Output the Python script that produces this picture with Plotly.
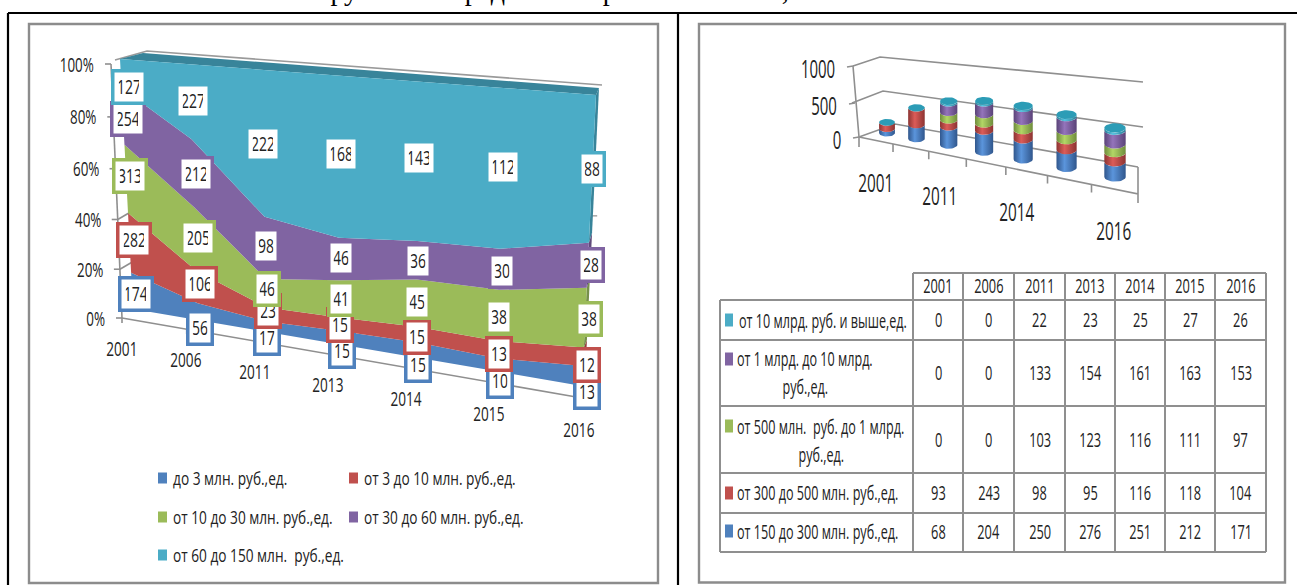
import math
import plotly.graph_objects as go

# Data
years = ["2001", "2006", "2011", "2013", "2014", "2015", "2016"]

small_names = ["до 3 млн. руб.,ед.", "от 3 до 10 млн. руб.,ед.", "от 10 до 30 млн. руб.,ед.",
               "от 30 до 60 млн. руб.,ед.", "от 60 до 150 млн.  руб.,ед."]
upto_3 = [174, 56, 17, 15, 15, 10, 13]
from_3_to_10 = [282, 106, 23, 15, 15, 13, 12]
from_10_to_30 = [313, 205, 46, 41, 45, 38, 38]
from_30_to_60 = [254, 212, 98, 46, 36, 30, 28]
from_60_to_150 = [127, 227, 222, 168, 143, 112, 88]

from_150_to_300 = [68, 204, 250, 276, 251, 212, 171]
from_300_to_500 = [93, 243, 98, 95, 116, 118, 104]
from_500_to_1000 = [0, 0, 103, 123, 116, 111, 97]
from_1000_to_10000 = [0, 0, 133, 154, 161, 163, 153]
above_10000 = [0, 0, 22, 23, 25, 27, 26]

percent_ticks = [0, 20, 40, 60, 80, 100]
count_ticks = [0, 500, 1000]

small_series = [upto_3, from_3_to_10, from_10_to_30, from_30_to_60, from_60_to_150]
large_series = [from_150_to_300, from_300_to_500, from_500_to_1000, from_1000_to_10000, above_10000]

BLUE, RED, GREEN, PURPLE, TEAL = "#4f81bd", "#c0504d", "#9bbb59", "#8064a2", "#4bacc6"
colors = [BLUE, RED, GREEN, PURPLE, TEAL]
side_colors = ["#3b6390", "#923d3a", "#76904a", "#614c7c", "#38849a"]
light = ["#5b95dc", "#dc5c58", "#b2d666", "#9474bb", "#56c3e0"]
dark = ["#30568c", "#8c3432", "#6f8c3c", "#5a4378", "#2b7f97"]
GRID = "#8f8f8f"
SANS = "Open Sans, Liberation Sans, sans-serif"
TEXT = "#222222"

fig = go.Figure()
shapes, notes = [], []


def plane(bl, br, tl, tr):
    """Projective map of the unit square onto a quadrilateral on the page."""
    x0, y0 = bl
    x1, y1 = br
    x2, y2 = tr
    x3, y3 = tl
    dx1, dx2, sx = x1 - x2, x3 - x2, x0 - x1 + x2 - x3
    dy1, dy2, sy = y1 - y2, y3 - y2, y0 - y1 + y2 - y3
    den = dx1 * dy2 - dx2 * dy1
    g = (sx * dy2 - dx2 * sy) / den
    h = (dx1 * sy - sx * dy1) / den
    a, b, c = x1 - x0 + g * x1, x3 - x0 + h * x3, x0
    d, e, f = y1 - y0 + g * y1, y3 - y0 + h * y3, y0

    def project(s, t):
        w = g * s + h * t + 1
        return (a * s + b * t + c) / w, (d * s + e * t + f) / w
    return project


def line(points, color=GRID, width=1.6):
    xs, ys = zip(*points)
    fig.add_trace(go.Scatter(x=xs, y=ys, mode="lines", line=dict(color=color, width=width),
                             hoverinfo="skip", showlegend=False))


def polygon(points, color):
    xs, ys = zip(*points)
    fig.add_trace(go.Scatter(x=xs, y=ys, mode="lines", fill="toself", fillcolor=color,
                             line=dict(width=0), hoverinfo="skip", showlegend=False))


def note(x, y, text, size, squeeze, xanchor="center", **extra):
    # the annotation name carries the horizontal text scale applied after drawing
    notes.append(dict(x=x, y=y, text=text, showarrow=False, xanchor=xanchor, yanchor="middle",
                      name=str(squeeze), font=dict(family=SANS, size=size, color=TEXT), **extra))


def swatches(xs, ys, cols, w, h):
    for x, y, c in zip(xs, ys, cols):
        shapes.append(dict(type="rect", x0=x, x1=x + w, y0=y - h / 2, y1=y + h / 2,
                           fillcolor=c, line=dict(width=0)))


def frame(x0, y0, x1, y1, color, width):
    shapes.append(dict(type="rect", x0=x0, y0=y0, x1=x1, y1=y1,
                       line=dict(color=color, width=width), fillcolor="rgba(0,0,0,0)"))


# Page frame and chart boxes
frame(29, 24, 658, 583, "#8c8c8c", 2.4)
frame(699, 24, 1285, 582.5, "#8c8c8c", 2.4)
for seg in [((8, 13), (1297, 13)), ((8, 13), (8, 585)), ((678, 13), (678, 585))]:
    shapes.append(dict(type="line", x0=seg[0][0], y0=seg[0][1], x1=seg[1][0], y1=seg[1][1],
                       line=dict(color="#000000", width=2.2)))
notes.append(dict(xref="x", yref="paper", x=314, y=1 + 10 / 585,
                  text="Группы по предельным рамкам объема,", showarrow=False,
                  yanchor="middle", xanchor="left",
                  font=dict(family="Liberation Serif, serif", size=28, color="#000000")))

# ---- 100% stacked area chart, drawn in a tilted plane
n = len(years) - 1
wall = plane((122, 318), (582, 398), (111, 64), (598, 89))
face = plane((133, 309), (582, 386), (120, 59), (596, 95))
back = plane((136, 303), (585, 380), (143, 53), (599, 88))
tags = plane((138, 314), (585, 403), (127, 58), (595, 90))
year_tags = plane((122, 348), (579, 429), (111, 94), (596, 120))

line([(115, 60), (147, 51), (602, 85)], color="#9a9a9a", width=1.6)
line([wall(0, 0), wall(0, 1)])
line([wall(0, 0), wall(1, 0)])
for t in percent_ticks:
    v = t / 100
    x, y = wall(0, v)
    line([(x - 6, y), (x, y)])
    if t in (20, 40):
        line([(x, y), (x + 12, y - 7)])
    note(x - 15, y, f"{t}%", 20, 0.67, xanchor="right")
for i in range(len(years)):
    x, y = wall(i / n, 0)
    line([(x, y), (x, y + 5)])
    x, y = year_tags(i / n, 0)
    note(x, y, years[i], 20, 0.68)
for v in (0.6, 0.8):
    x, y = face(1, v)
    line([(x + 1, y), (x + 7, y)], width=1.2)

totals = [sum(s[i] for s in small_series) for i in range(len(years))]
bounds = [[0.0] * len(years)]
for s in small_series:
    bounds.append([b + v / tot for b, v, tot in zip(bounds[-1], s, totals)])

# depth faces behind the front surface
polygon([back(i / n, 1) for i in range(n + 1)] + [face(i / n, 1) for i in range(n, -1, -1)], side_colors[4])
for k in range(5):
    polygon([back(1, bounds[k][-1]), back(1, bounds[k + 1][-1]),
             face(1, bounds[k + 1][-1]), face(1, bounds[k][-1])], side_colors[k])
for k in range(5):
    upper = [face(i / n, bounds[k + 1][i]) for i in range(n + 1)]
    lower = [face(i / n, bounds[k][i]) for i in range(n, -1, -1)]
    polygon(upper + lower, colors[k])

# small pixel shifts that keep neighbouring value boxes from colliding
tag_shift_x = [[-1, 0, 0, 4, 3, 3, 2], [-1, 1, 1, 2, 2, 2, 1], [-2, 0, 1, 3, 2, 1, 2],
               [-2, 0, 1, 3, 3, 3, 2], [1, 0, 0, 4, 3, 3, 0]]
tag_shift_y = [[-1, 10, 4, 4, 4, 3, 0], [-6, -8, -10, -8, -7, -8, -6], [-4, -4, -10, -7, -9, -8, -10],
               [3, 0, -6, -6, -5, -5, -7], [14, 0, 0, -4, -5, -3, -1]]
for k, s in enumerate(small_series):
    for i, value in enumerate(s):
        x, y = tags(i / n, (bounds[k][i] + bounds[k + 1][i]) / 2)
        note(x + tag_shift_x[k][i], y + tag_shift_y[k][i], str(value), 20, 0.7,
             bgcolor="#ffffff", bordercolor=colors[k], borderwidth=3.5, borderpad=0,
             width=7.6 * len(str(value)) + 6, height=29, align="center", valign="middle")

legend_x = [158, 349, 158, 349, 158]
legend_y = [478, 478, 517, 517, 555]
swatches(legend_x, legend_y, colors, 9, 11)
for x, y, name in zip(legend_x, legend_y, small_names):
    note(x + 13, y, name, 19, 0.72, xanchor="left")

# ---- stacked cylinders in a tilted plane
m = len(years) - 1
stack = plane((887, 133), (1115, 177), (887, 67), (1115, 88))
ylabels = plane((874, 182), (1112, 230), (874, 116), (1112, 141))
floor_front = plane((859, 137), (1138, 194), (859, 67), (1138, 110))

line([(853, 66), (880, 57), (1143, 82)])
line([(852, 103), (883, 91), (1143, 127)])
line([(859, 137), (895, 124), (1138, 167)])
line([(853, 66), (859, 137), (859, 147)])
line([(859, 137), (1138, 194), (1138, 203), (1138, 167)])
for i in range(1, len(years)):
    x, y = floor_front(i / len(years), 0)
    line([(x, y), (x, y + 8)])
for t, (x, y) in zip(count_ticks, [(859, 137), (855, 103), (853, 66)]):
    line([(x - 6, y + 1), (x, y)])
    note(x - 16, y + 2, str(t), 25, 0.6, xanchor="right")
for i, label in list(enumerate(years))[::2]:
    x, y = ylabels(i / m, 0)
    note(x + 1, y, label, 26, 0.59)


def arc(cx, cy, rx, ry, front=True, steps=16):
    pts = []
    for j in range(steps + 1):
        a = math.pi * j / steps
        pts.append((cx - rx * math.cos(a), cy + (ry if front else -ry) * math.sin(a)))
    return pts


for i in range(len(years)):
    level = 0
    span = stack(i / m, 0)[1] - stack(i / m, 1)[1]
    rx = 0.12 * span
    ry = rx * 0.44
    for k, s in enumerate(large_series):
        if s[i] == 0:
            continue
        cx, y0 = stack(i / m, level / 1000)
        _, y1 = stack(i / m, (level + s[i]) / 1000)
        xs, ys = zip(*(arc(cx, y0, rx, ry) + arc(cx, y1, rx, ry)[::-1]))
        fig.add_trace(go.Scatter(x=xs, y=ys, mode="lines", fill="toself",
                                 line=dict(width=0), hoverinfo="skip", showlegend=False,
                                 fillgradient=dict(type="horizontal", start=cx - rx, stop=cx + rx,
                                                   colorscale=[[0, dark[k]], [0.4, light[k]], [1, dark[k]]])))
        level += s[i]
    cx, y1 = stack(i / m, level / 1000)
    polygon(arc(cx, y1, rx, ry) + arc(cx, y1, rx, ry, front=False)[::-1], "#2c9cb6")

# ---- data table under the cylinders
col_edges = [720, 913, 963, 1014, 1065, 1115, 1165, 1215, 1266]
row_edges = [273, 300, 340, 406, 473, 513, 552]
row_names = [["от 10 млрд. руб. и выше,ед."], ["от 1 млрд. до 10 млрд.", "руб.,ед."],
             ["от 500 млн.  руб. до 1 млрд.", "руб.,ед."], ["от 300 до 500 млн. руб.,ед."],
             ["от 150 до 300 млн. руб.,ед."]]
table_rows = large_series[::-1]
row_colors = colors[::-1]
key_y = [320, 359, 426, 493, 531]
name_x = [737, 735, 735, 735, 735]
name_y = [320, 358, 426, 492, 531]
wrap_x = [None, 805, 821, None, None]
wrap_y = [None, 386, 454, None, None]
value_y = [319, 372, 439, 492, 531]

for y in row_edges:
    x_start = col_edges[1] if y == row_edges[0] else col_edges[0]
    line([(x_start, y), (col_edges[-1], y)], width=2)
for j, x in enumerate(col_edges):
    y_start = row_edges[1] if j == 0 else row_edges[0]
    line([(x, y_start), (x, row_edges[-1])], width=2)
for j, label in enumerate(years):
    note((col_edges[j + 1] + col_edges[j + 2]) / 2, (row_edges[0] + row_edges[1]) / 2 - 1, label, 20, 0.64)
swatches([725] * 5, key_y, row_colors, 8, 13)
for r, values in enumerate(table_rows):
    note(name_x[r], name_y[r], row_names[r][0], 20, 0.63, xanchor="left")
    if wrap_x[r] is not None:
        note(wrap_x[r], wrap_y[r], row_names[r][1], 20, 0.63)
    for j, value in enumerate(values):
        note((col_edges[j + 1] + col_edges[j + 2]) / 2, value_y[r], str(value), 20, 0.64)

fig.update_layout(
    width=1297, height=585, margin=dict(l=0, r=0, t=0, b=0),
    paper_bgcolor="#ffffff", plot_bgcolor="#ffffff", showlegend=False,
    xaxis=dict(range=[0, 1297], visible=False, fixedrange=True),
    yaxis=dict(range=[585, 0], visible=False, fixedrange=True),
    shapes=shapes, annotations=notes,
)

# narrow the annotation glyphs horizontally around their anchor point
condense_text = """
var gd = document.getElementById('{plot_id}');
gd.querySelectorAll('.annotation').forEach(function (g) {
  var a = gd.layout.annotations[+g.getAttribute('data-index')];
  var k = parseFloat(a.name);
  var t = g.querySelector('text');
  if (!k || !t) return;
  var b = t.getBBox();
  var fx = a.xanchor === 'left' ? b.x : a.xanchor === 'right' ? b.x + b.width : b.x + b.width / 2;
  t.setAttribute('transform', 'translate(' + fx + ',0) scale(' + k + ',1) translate(' + (-fx) + ',0)');
});
"""
fig.write_html("out.html", post_script=condense_text)
